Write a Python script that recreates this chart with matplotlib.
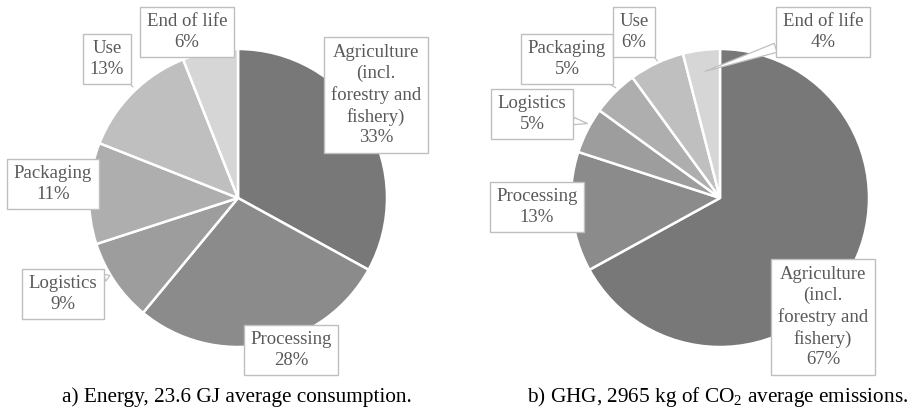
import matplotlib
matplotlib.use("Agg")
import matplotlib.pyplot as plt

plt.rcParams['font.family'] = ['Liberation Serif', 'DejaVu Serif']
plt.rcParams['mathtext.fontset'] = 'custom'
plt.rcParams['mathtext.rm'] = 'Liberation Serif'

categories = ["Agriculture\n(incl.\nforestry and\nfishery)", "Processing", "Logistics",
              "Packaging", "Use", "End of life"]
energy_pct = [33, 28, 9, 11, 13, 6]
ghg_pct = [67, 13, 5, 5, 6, 4]
captions = ["a) Energy, 23.6 GJ average consumption.",
            r"b) GHG, 2965 kg of CO$_2$ average emissions."]

colors = ["#787878", "#8b8b8b", "#9d9d9d", "#aeaeae", "#bfbfbf", "#d6d6d6"]
TXT = "#595959"
EDGE = "#bfbfbf"

W, H = 914, 412
fig = plt.figure(figsize=(W / 100, H / 100), dpi=100)
R = 149.0  # pie radius in pixels


def make_ax(x0, x1, cx, cy):
    ax = fig.add_axes([x0 / W, 0, (x1 - x0) / W, 1])
    lims = ((x0 - cx) / R, (x1 - cx) / R), ((cy - H) / R, cy / R)
    return ax, lims


def draw(ax, lims, vals, label_pos, callouts):
    ax.pie(vals, colors=colors, startangle=90, counterclock=False, radius=1,
           wedgeprops=dict(edgecolor='white', linewidth=1.8))
    ax.set_xlim(*lims[0])
    ax.set_ylim(*lims[1])
    ax.set_aspect('equal')
    ax.axis('off')
    for i, (cat, v) in enumerate(zip(categories, vals)):
        x, y = label_pos[i]
        txt = f"{cat}\n{v}%"
        kw = dict(ha='center', va='center', fontsize=13.5, color=TXT,
                  linespacing=1.28,
                  bbox=dict(boxstyle='square,pad=0.35', fc='white', ec=EDGE, lw=1.0))
        if i in callouts:
            (px, py), style = callouts[i]
            ax.annotate(txt, xy=(px, py), xytext=(x, y), annotation_clip=False,
                        arrowprops=dict(arrowstyle=style, color=EDGE, fc='white',
                                        ec=EDGE, lw=0.9, shrinkA=0, shrinkB=0),
                        **kw)
        else:
            ax.text(x, y, txt, **kw)


# left pie
axL, limL = make_ax(0, 457, 238, 198)
left_pos = [(0.926, 0.691), (0.356, -1.020), (-1.174, -0.644),
            (-1.242, 0.094), (-0.879, 0.933), (-0.342, 1.114)]
left_call = {2: ((-0.86, -0.52), "wedge,tail_width=0.4"),
             4: ((-0.705, 0.745), "-")}
draw(axL, limL, energy_pct, left_pos, left_call)

# right pie
axR, limR = make_ax(457, 914, 720, 198)
right_pos = [(0.691, -0.799), (-1.228, -0.060), (-1.262, 0.564),
             (-1.027, 0.933), (-0.577, 1.114), (0.691, 1.114)]
right_call = {5: ((-0.10, 0.85), "wedge,tail_width=0.5"),
              4: ((-0.42, 0.92), "-"),
              3: ((-0.70, 0.74), "-"),
              2: ((-0.89, 0.50), "wedge,tail_width=0.4")}
draw(axR, limR, ghg_pct, right_pos, right_call)

fig.text(237 / W, 1 - 397 / H, captions[0], ha='center', va='center',
         fontsize=15.3, color='black')
fig.text(718 / W, 1 - 397 / H, captions[1], ha='center', va='center',
         fontsize=15.3, color='black')

fig.savefig("out.png", dpi=100, facecolor='white')
